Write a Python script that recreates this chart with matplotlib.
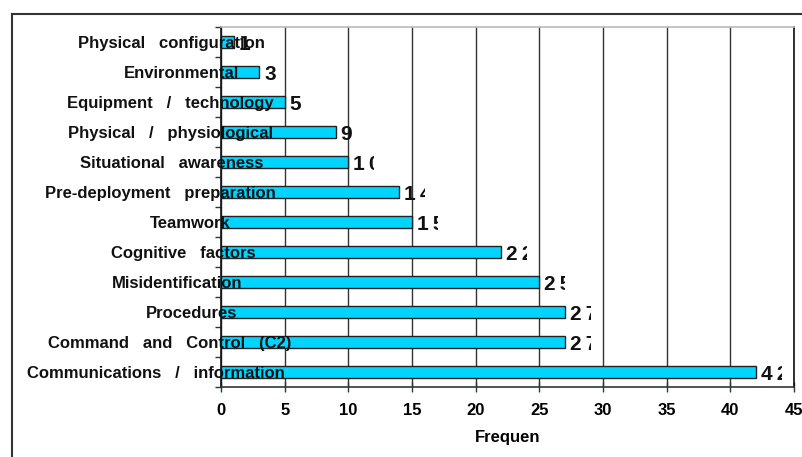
import numpy as np
import matplotlib
matplotlib.use("Agg")
import matplotlib.pyplot as plt
from matplotlib.lines import Line2D
from matplotlib.transforms import Bbox, blended_transform_factory

categories = [
    "Physical configuration",
    "Environmental",
    "Equipment / technology",
    "Physical / physiological",
    "Situational awareness",
    "Pre-deployment preparation",
    "Teamwork",
    "Cognitive factors",
    "Misidentification",
    "Procedures",
    "Command and Control (C2)",
    "Communications / information",
]
counts = [1, 3, 5, 9, 10, 14, 15, 22, 25, 27, 27, 42]
x_ticks = [0, 5, 10, 15, 20, 25, 30, 35, 40, 45]
x_label = "Frequen"

# where the (oddly spaced) category labels sit, centre in pixels
label_centers = [171, 182, 170, 170, 172, 160, 190, 183, 177, 192, 170, 156]

W, H = 803, 457
plt.rcParams["font.family"] = ["Liberation Sans", "DejaVu Sans"]
plt.rcParams["font.weight"] = "bold"

fig = plt.figure(figsize=(W / 100, H / 100), dpi=100)
ax = fig.add_axes([221 / W, 1 - 387 / H, (794 - 221) / W, (387 - 27) / H])

y = np.arange(len(categories))
ax.barh(y, counts, height=0.42, color="#00D4FF", edgecolor="#222222",
        linewidth=1.0, zorder=2)

ax.set_xlim(0, 45)
ax.set_ylim(len(categories) - 0.5, -0.5)
ax.set_xticks(x_ticks)
ax.set_xticklabels([str(t) for t in x_ticks], fontsize=12, fontweight="bold")
ax.tick_params(axis="x", direction="inout", length=7, width=1,
               color="#2b3a3a", pad=8)
ax.set_yticks([])
ax.set_yticks(np.arange(len(categories) + 1) - 0.5, minor=True)
ax.tick_params(axis="y", which="minor", direction="out", length=4,
               width=1, color="#333333")
ax.xaxis.grid(True, color="#333333", linewidth=1)
ax.set_axisbelow(True)

ax.spines["top"].set_color("#bbbbbb")
ax.spines["right"].set_color("#111111")
ax.spines["left"].set_color("#111111")
ax.spines["bottom"].set_color("#2b3a3a")
for s in ax.spines.values():
    s.set_linewidth(1.2)

ax.set_xlabel(x_label, fontsize=12, fontweight="bold", labelpad=9)

# category labels, widely spaced words, drawn over the bars
trans = blended_transform_factory(fig.transFigure, ax.transData)
for i, (name, cx) in enumerate(zip(categories, label_centers)):
    ax.text(cx / W, i + 0.19, "   ".join(name.split(" ")), transform=trans,
            ha="center", va="baseline", fontsize=12, fontweight="bold",
            color="#111111", zorder=4, clip_on=False)

# value labels, cut off after about two glyph widths as in the original
for i, v in enumerate(counts):
    x0 = ax.transData.transform((v, 0))[0]
    t = ax.text(v, i + 0.27, "\u2009".join(str(v)), ha="left", va="baseline",
                fontsize=15, fontweight="bold", color="#111111", zorder=4)
    t.set_transform(ax.transData + matplotlib.transforms.ScaledTranslation(
        5 / 100, 0, fig.dpi_scale_trans))
    t.set_clip_box(Bbox.from_extents(x0, 0, x0 + 26, H))
    t.set_clip_on(True)

# outer frame
fig.add_artist(Line2D([12 / W, 12 / W], [1 - 14 / H, 0], transform=fig.transFigure,
                      color="#333333", linewidth=1.5))
fig.add_artist(Line2D([12 / W, 1], [1 - 14 / H, 1 - 14 / H], transform=fig.transFigure,
                      color="#333333", linewidth=1.5))

fig.savefig("out.png", dpi=100)
